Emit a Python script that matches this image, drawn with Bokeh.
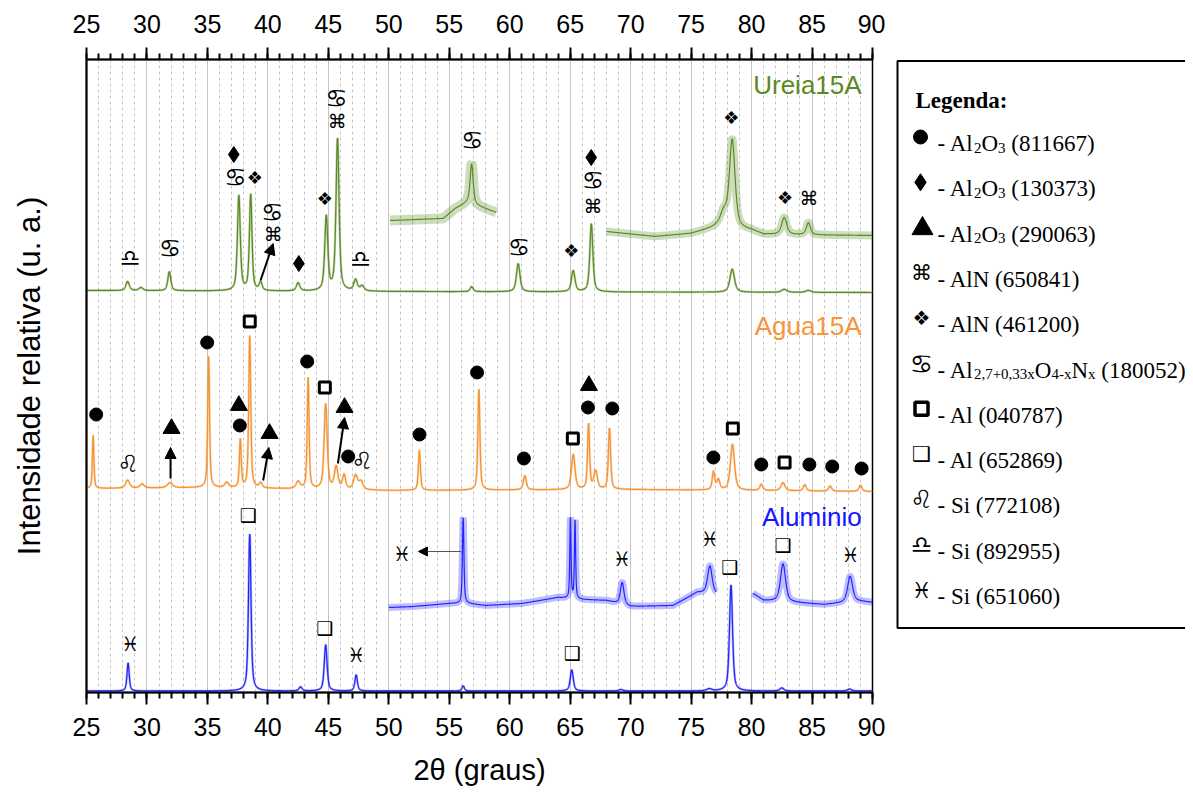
import re
import numpy as np
from bokeh.plotting import figure
from bokeh.models import (Range1d, LinearAxis, SingleIntervalTicker, FixedTicker,
                          Arrow, NormalHead, ColumnDataSource)
from bokeh.layouts import row
from bokeh.core.properties import value
from bokeh.embed import file_html
from bokeh.resources import INLINE

# ---------------- data ----------------
two_theta = np.arange(25.0, 90.0001, 0.01)

# Aluminio (blue) - main pattern: peak centres, heights, FWHM
al_base_x = [25, 90]
al_base_y = [1.5, 1.5]
al_pos = [28.44, 38.5, 42.7, 44.78, 47.3, 56.15, 65.13, 69.2, 76.5, 78.3, 82.5, 88.1]
al_hgt = [28, 157, 4, 46, 16, 5, 21, 1.5, 2, 106, 3, 2]
al_fw = [0.22, 0.25, 0.3, 0.28, 0.25, 0.25, 0.3, 0.4, 0.5, 0.3, 0.4, 0.4]
# Aluminio - magnified insets
al_in1_range = [50.0, 77.1]
al_in1_base_x = [50, 52, 55, 56.5, 58, 61, 64, 66, 68, 70, 73.5, 75.5, 77.1]
al_in1_base_y = [85, 86, 89, 89, 87, 89, 95, 93, 92, 86, 87, 100, 98]
al_in1_pos = [56.15, 65.02, 65.4, 69.3, 76.55]
al_in1_hgt = [86, 80, 78, 22, 28]
al_in1_fw = [0.15, 0.12, 0.12, 0.35, 0.45]
al_in2_range = [80.1, 90.0]
al_in2_base_x = [80.1, 81, 83.5, 86, 89, 90]
al_in2_base_y = [99, 92, 90, 88, 91, 90]
al_in2_pos = [82.6, 88.15]
al_in2_hgt = [38, 26]
al_in2_fw = [0.5, 0.5]

# Agua15A (orange)
ag_base_x = [25, 35, 50, 70, 90]
ag_base_y = [204, 205, 202, 203, 201]
ag_pos = [25.55, 28.4, 29.6, 31.9, 35.1, 36.6, 37.72, 38.5, 39.4, 42.5, 43.33, 44.78,
          45.65, 46.3, 47.25, 47.7, 52.53, 57.45, 61.25, 65.25, 66.52, 67.1, 68.25,
          76.85, 77.25, 78.42, 80.8, 82.6, 84.4, 86.5, 89.0]
ag_hgt = [53, 8, 4, 5, 131, 5, 48, 152, 5, 7, 111, 85, 22, 14, 14, 8, 40, 101, 14,
          35, 65, 18, 61, 18, 10, 46, 6, 8, 6, 5, 6]
ag_fw = [0.15, 0.4, 0.4, 0.5, 0.18, 0.4, 0.18, 0.2, 0.3, 0.4, 0.18, 0.3, 0.35, 0.3,
         0.4, 0.4, 0.2, 0.2, 0.3, 0.35, 0.2, 0.35, 0.22, 0.25, 0.3, 0.4, 0.3, 0.4,
         0.3, 0.3, 0.3]

# Ureia15A (green)
ur_base_x = [25, 50, 90]
ur_base_y = [402, 401, 400]
ur_pos = [28.4, 29.5, 31.85, 37.6, 38.58, 39.4, 42.5, 44.83, 45.76, 47.25, 47.8,
          56.85, 60.7, 65.25, 66.75, 78.4, 82.7, 84.7]
ur_hgt = [9, 3, 19, 95, 96, 8, 8, 74, 152, 11, 5, 5, 28, 21, 68, 23, 3, 2]
ur_fw = [0.35, 0.4, 0.3, 0.28, 0.25, 0.3, 0.35, 0.3, 0.3, 0.35, 0.4, 0.3, 0.35,
         0.35, 0.3, 0.45, 0.5, 0.5]
ur_in1_range = [50.1, 58.9]
ur_in1_base_x = [50.1, 54.5, 55.5, 56.5, 57.5, 58.9]
ur_in1_base_y = [472, 474, 484, 490, 486, 480]
ur_in1_pos = [56.85]
ur_in1_hgt = [40]
ur_in1_fw = [0.3]
ur_in2_range = [68.0, 90.0]
ur_in2_base_x = [68.0, 72, 75, 77, 80, 81, 90]
ur_in2_base_y = [461, 456, 459, 465, 462, 458, 457]
ur_in2_pos = [77.7, 78.4, 82.7, 84.7]
ur_in2_hgt = [14, 88, 17, 12]
ur_in2_fw = [0.7, 0.55, 0.5, 0.4]

# phase markers (2theta, height)
circle_x = [25.8, 34.98, 37.68, 43.25, 46.64, 52.54, 57.3, 61.17, 66.47, 68.48, 76.84, 80.8, 84.78, 86.67, 89.1]
circle_y = [278, 350, 267, 331, 236, 258, 320, 234, 285, 284, 235, 228, 228, 226, 224]
diamond_x = [37.18, 42.56, 66.74]
diamond_y = [538, 429, 535]
triangle_x = [32.03, 37.6, 40.14, 46.34, 66.55]
triangle_y = [264, 287, 259, 285, 307]
sqbold_x = [38.5, 44.71, 65.22, 78.45, 82.73]
sqbold_y = [371, 305, 254, 264, 230]
sqshadow_x = [38.37, 44.71, 65.18, 78.2, 82.6]
sqshadow_y = [178, 65, 40, 126, 148]
cmd_x = [40.44, 45.73, 66.88, 84.75]
cmd_y = [459, 572, 487, 495]
clover_x = [38.92, 44.71, 65.09, 78.32, 82.76]
clover_y = [515, 494, 442, 575, 495]
cancer_x = [31.9, 37.32, 40.36, 45.68, 56.9, 60.76, 66.88]
cancer_y = [444, 515, 480, 594, 552, 445, 512]
leo_x = [28.45, 47.8]
leo_y = [229, 232]
libra_x = [28.6, 47.66]
libra_y = [435, 434]
pisces_x = [28.64, 47.33, 51.1, 69.31, 76.55, 88.2]
pisces_y = [49, 38, 139, 134, 154, 138]

# arrows (black, to phase markers)
arrow_x0 = [39.39, 31.95, 39.61, 45.79]
arrow_y0 = [412, 214, 212, 229]
arrow_x1 = [40.44, 31.95, 40.08, 46.34]
arrow_y1 = [449, 245, 245, 275]
# grey arrow on the Aluminio inset
garrow_x0 = [56.0]
garrow_y0 = [141]
garrow_x1 = [52.45]
garrow_y1 = [141]

series_names = ["Ureia15A", "Agua15A", "Aluminio"]
series_colors = ["#5a8a22", "#f5912e", "#2323ff"]
label_colors = ["#5a8a1e", "#f7943c", "#1515ff"]

legend_symbols = ["●", "♦", "▲", "⌘", "❖", "♋", "□", "❑", "♌", "♎", "♓"]
legend_labels = ["Al_{2}O_{3} (811667)", "Al_{2}O_{3} (130373)", "Al_{2}O_{3} (290063)",
                 "AlN (650841)", "AlN (461200)", "Al_{2,7+0,33x}O_{4-x}N_{x} (180052)",
                 "Al (040787)", "Al (652869)", "Si (772108)", "Si (892955)", "Si (651060)"]

x_ticks_major = 5
x_label = "2θ (graus)"
y_label = "Intensidade relativa (u. a.)"


# ---------------- helpers ----------------
def profile(x, centres, heights, widths):
    y = np.zeros_like(x)
    for c, h, w in zip(centres, heights, widths):
        d = (x - c) / (w / 2.0)
        y += h * (0.6 / (1 + d ** 2) + 0.4 * np.exp(-np.log(2) * d ** 2))
    return y


def pattern(bx, by, pos, hgt, fw, rng=None):
    x = two_theta
    if rng is not None:
        x = x[(x >= rng[0]) & (x <= rng[1])]
    return x, np.interp(x, bx, by) + profile(x, pos, hgt, fw)


SYM_FONT = value("DejaVu Sans")
FIG_H = 792
TOP, BOTTOM = 59, FIG_H - 692

# ---------------- main figure ----------------
p = figure(width=885, height=FIG_H, x_range=Range1d(25, 90), y_range=Range1d(0, 633),
           output_backend="svg", toolbar_location=None,
           min_border_left=86, min_border_right=13, min_border_top=TOP, min_border_bottom=BOTTOM)
p.outline_line_color = "black"
p.outline_line_width = 1.5
p.background_fill_color = "white"

ticker = SingleIntervalTicker(interval=x_ticks_major, num_minor_ticks=5)
bottom_axis = p.below[0]
bottom_axis.ticker = ticker
top_axis = LinearAxis(ticker=ticker)
p.add_layout(top_axis, "above")
for ax in (bottom_axis, top_axis):
    ax.axis_line_width = 2
    ax.axis_line_color = "black"
    ax.major_tick_line_width = 2
    ax.minor_tick_line_width = 2
    ax.major_tick_out = 12
    ax.major_tick_in = 0
    ax.minor_tick_out = 6
    ax.minor_tick_in = 0
    ax.major_label_text_font = "Liberation Sans"
    ax.major_label_text_font_size = "25px"
    ax.major_label_text_color = "black"
bottom_axis.major_label_standoff = 13
top_axis.major_label_standoff = 15
bottom_axis.axis_label = x_label
bottom_axis.axis_label_text_font = "Liberation Sans"
bottom_axis.axis_label_text_font_size = "29px"
bottom_axis.axis_label_text_font_style = "normal"
bottom_axis.axis_label_text_color = "black"
bottom_axis.axis_label_standoff = 15

left_axis = p.left[0]
left_axis.ticker = FixedTicker(ticks=[])
left_axis.axis_line_width = 2
left_axis.axis_line_color = "black"
left_axis.major_tick_out = 0
left_axis.minor_tick_out = 0
left_axis.major_label_text_font_size = "0px"
left_axis.axis_label = y_label
left_axis.axis_label_text_font = "Liberation Sans"
left_axis.axis_label_text_font_size = "31px"
left_axis.axis_label_text_font_style = "normal"
left_axis.axis_label_text_color = "black"
left_axis.axis_label_standoff = 40

p.xgrid.ticker = ticker
p.xgrid.grid_line_color = "#c4c4c4"
p.xgrid.grid_line_width = 1
p.xgrid.minor_grid_line_color = "#c4c4c4"
p.xgrid.minor_grid_line_dash = "3 3"
p.ygrid.visible = False

# curves
ur_col, ag_col, al_col = series_colors
for (bx, by, pos, hgt, fw, rng, col, bw) in [
        (ur_in1_base_x, ur_in1_base_y, ur_in1_pos, ur_in1_hgt, ur_in1_fw, ur_in1_range, ur_col, 10),
        (ur_in2_base_x, ur_in2_base_y, ur_in2_pos, ur_in2_hgt, ur_in2_fw, ur_in2_range, ur_col, 8),
        (al_in1_base_x, al_in1_base_y, al_in1_pos, al_in1_hgt, al_in1_fw, al_in1_range, al_col, 7),
        (al_in2_base_x, al_in2_base_y, al_in2_pos, al_in2_hgt, al_in2_fw, al_in2_range, al_col, 7)]:
    xx, yy = pattern(bx, by, pos, hgt, fw, rng)
    p.line(xx, yy, line_color=col, line_width=bw, line_alpha=0.3)
    p.line(xx, yy, line_color=col, line_width=1.2)

for (bx, by, pos, hgt, fw, col) in [
        (ur_base_x, ur_base_y, ur_pos, ur_hgt, ur_fw, ur_col),
        (ag_base_x, ag_base_y, ag_pos, ag_hgt, ag_fw, ag_col),
        (al_base_x, al_base_y, al_pos, al_hgt, al_fw, al_col)]:
    xx, yy = pattern(bx, by, pos, hgt, fw)
    p.line(xx, yy, line_color=col, line_width=2.4, line_alpha=0.35)
    p.line(xx, yy, line_color=col, line_width=1.2)

# arrows
p.add_layout(Arrow(end=NormalHead(size=11, fill_color="black", line_color="black"),
                   source=ColumnDataSource(dict(x0=arrow_x0, y0=arrow_y0, x1=arrow_x1, y1=arrow_y1)),
                   x_start="x0", y_start="y0", x_end="x1", y_end="y1",
                   line_color="black", line_width=2))
p.add_layout(Arrow(end=NormalHead(size=9, fill_color="black", line_color="black"),
                   source=ColumnDataSource(dict(x0=garrow_x0, y0=garrow_y0, x1=garrow_x1, y1=garrow_y1)),
                   x_start="x0", y_start="y0", x_end="x1", y_end="y1",
                   line_color="#555555", line_width=1.2))

# phase markers
p.scatter(circle_x, circle_y, marker="circle", size=13, fill_color="black", line_color="black")
p.scatter(diamond_x, diamond_y, marker="diamond", size=16, fill_color="black", line_color="black")
p.scatter(triangle_x, triangle_y, marker="triangle", size=17, fill_color="black", line_color="black")
p.scatter(sqbold_x, sqbold_y, marker="square", size=11, fill_color="white", line_color="black", line_width=3)
for xs, ys, sym, fs in [(sqshadow_x, sqshadow_y, "❑", "19px"), (cmd_x, cmd_y, "⌘", "19px"),
                        (clover_x, clover_y, "❖", "18px"), (cancer_x, cancer_y, "♋", "25px"),
                        (leo_x, leo_y, "♌", "24px"), (libra_x, libra_y, "♎", "23px"),
                        (pisces_x, pisces_y, "♓", "20px")]:
    p.text(xs, ys, text=[sym] * len(xs), text_font=SYM_FONT, text_font_size=fs,
           text_align="center", text_baseline="middle", text_color="black")

# series names
name_y = [608, 367, 176]
p.text([89.1] * 3, name_y, text=series_names, text_color=label_colors,
       text_font=value("Liberation Sans"), text_font_size="26px",
       text_align="right", text_baseline="middle")

# ---------------- legend figure (coordinates = page pixels) ----------------
lg = figure(width=300, height=FIG_H, x_range=Range1d(885, 1185), y_range=Range1d(692, 59),
            x_axis_type=None, y_axis_type=None, output_backend="svg", toolbar_location=None,
            min_border_left=0, min_border_right=0, min_border_top=TOP, min_border_bottom=BOTTOM)
lg.outline_line_color = None
lg.grid.visible = False
lg.quad(left=[897], right=[1200], top=[60.5], bottom=[627.5], fill_color=None,
        line_color="black", line_width=2)

lg.text([915], [100], text=["Legenda:"], text_font=value("Liberation Serif"),
        text_font_size="23px", text_font_style="bold", text_baseline="alphabetic")

TW = {' ': 250, '-': 333, 'A': 722, 'l': 278, 'N': 722, 'O': 722, 'S': 556, 'i': 278,
      '(': 333, ')': 333, ',': 250, '+': 564, 'x': 500}
FS, FSS = 23.0, 15.0
SYM_SIZE = {"⌘": "21px", "❖": "20px", "♋": "26px", "❑": "21px", "♌": "25px", "♎": "24px", "♓": "22px"}

seg_x, seg_y, seg_t, seg_s = [], [], [], []
for i, (sym, lab) in enumerate(zip(legend_symbols, legend_labels)):
    base = 143 + 45.3 * i
    cy = base - 6.5
    if sym == "●":
        lg.scatter([920], [cy], marker="circle", size=14, fill_color="black", line_color="black")
    elif sym == "♦":
        lg.scatter([920], [cy], marker="diamond", size=17, fill_color="black", line_color="black")
    elif sym == "▲":
        lg.scatter([922], [cy + 1], marker="triangle", size=21, fill_color="black", line_color="black")
    elif sym == "□":
        lg.scatter([921], [cy], marker="square", size=13, fill_color="white", line_color="black", line_width=3.5)
    else:
        lg.text([921], [cy], text=[sym], text_font=SYM_FONT, text_font_size=SYM_SIZE[sym],
                text_align="center", text_baseline="middle")
    xpos = 937.0
    parts = re.split(r"(_\{[^}]*\})", "- " + lab)
    for part in parts:
        if not part:
            continue
        sub = part.startswith("_{")
        t = part[2:-1] if sub else part
        size = FSS if sub else FS
        lead = len(t) - len(t.lstrip(" "))
        xpos += lead * TW[' '] * size / 1000
        t = t.lstrip(" ")
        seg_x.append(xpos)
        seg_y.append(base + 4 if sub else base)
        seg_t.append(t)
        seg_s.append("15px" if sub else "23px")
        xpos += sum(TW.get(c, 500) for c in t) * size / 1000

lg.text(seg_x, seg_y, text=seg_t, text_font_size=seg_s, text_font=value("Liberation Serif"),
        text_baseline="alphabetic", text_align="left", text_color="black")

layout = row(p, lg)
open("out.html", "w").write(file_html(layout, INLINE))
